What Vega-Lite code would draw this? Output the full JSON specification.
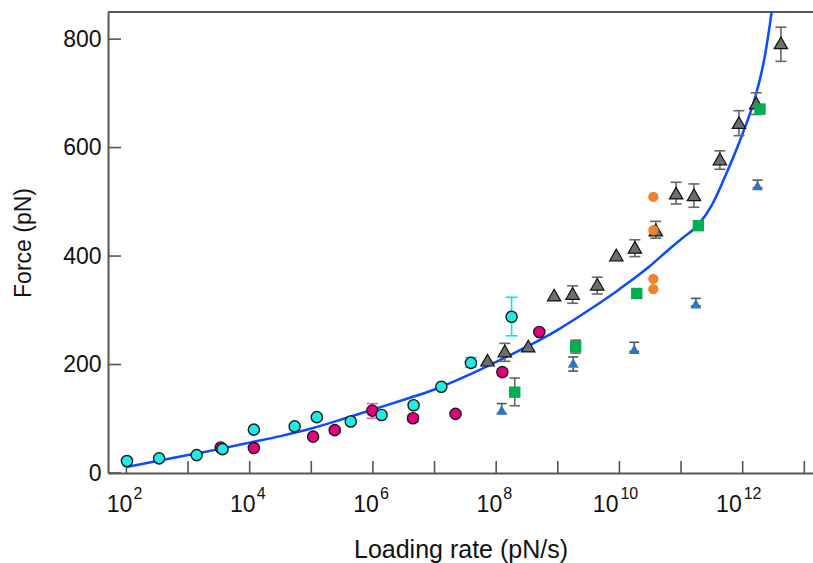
{
  "$schema": "https://vega.github.io/schema/vega-lite/v6.json",
  "width": 705,
  "height": 461,
  "autosize": {"type": "none"},
  "padding": {"left": 108, "top": 12, "right": 0, "bottom": 90},
  "background": "white",
  "config": {
    "view": {"stroke": null},
    "font": "Liberation Sans",
    "axis": {
      "grid": false,
      "ticks": false,
      "domainColor": "#555555",
      "domainWidth": 2,
      "labelColor": "#111111",
      "labelFontSize": 23,
      "titleFontSize": 24,
      "titleFontWeight": "normal",
      "titleColor": "#111111",
      "labelFont": "Liberation Sans",
      "titleFont": "Liberation Sans"
    },
    "text": {"font": "Liberation Sans", "color": "#111111"}
  },
  "datasets": {
    "xt": [{"v": 1e2}, {"v": 1e3}, {"v": 1e4}, {"v": 1e5}, {"v": 1e6}, {"v": 1e7}, {"v": 1e8}, {"v": 1e9}, {"v": 1e10}, {"v": 1e11}, {"v": 1e12}, {"v": 1e13}],
    "xl": [{"v": 1e2, "e": "2"}, {"v": 1e4, "e": "4"}, {"v": 1e6, "e": "6"}, {"v": 1e8, "e": "8"}, {"v": 1e10, "e": "10"}, {"v": 1e12, "e": "12"}],
    "yt": [{"v": 0}, {"v": 200}, {"v": 400}, {"v": 600}, {"v": 800}],
    "fit": [
      {"r": 1e2, "f": 11}, {"r": 3.162e2, "f": 22}, {"r": 1e3, "f": 33}, {"r": 3.162e3, "f": 44},
      {"r": 1e4, "f": 56}, {"r": 3.162e4, "f": 68}, {"r": 1e5, "f": 82}, {"r": 3.162e5, "f": 99},
      {"r": 1e6, "f": 117}, {"r": 3.162e6, "f": 135}, {"r": 1e7, "f": 154}, {"r": 3.162e7, "f": 178},
      {"r": 1e8, "f": 205}, {"r": 3.162e8, "f": 233}, {"r": 1e9, "f": 264}, {"r": 3.162e9, "f": 300},
      {"r": 1e10, "f": 339}, {"r": 3.162e10, "f": 382}, {"r": 5.623e10, "f": 407}, {"r": 1e11, "f": 431},
      {"r": 1.905e11, "f": 458}, {"r": 3.162e11, "f": 494}, {"r": 5.623e11, "f": 556}, {"r": 1e12, "f": 626},
      {"r": 1.585e12, "f": 692}, {"r": 2.239e12, "f": 763}, {"r": 2.951e12, "f": 850}, {"r": 3.631e12, "f": 930}
    ],
    "pts": [
      {"s": "cyan", "r": 1.02e2, "f": 22},
      {"s": "cyan", "r": 3.39e2, "f": 27},
      {"s": "cyan", "r": 1.38e3, "f": 33},
      {"s": "cyan", "r": 3.63e3, "f": 44},
      {"s": "cyan", "r": 1.17e4, "f": 80},
      {"s": "cyan", "r": 5.37e4, "f": 86},
      {"s": "cyan", "r": 1.23e5, "f": 103},
      {"s": "cyan", "r": 4.37e5, "f": 95},
      {"s": "cyan", "r": 1.38e6, "f": 107},
      {"s": "cyan", "r": 4.57e6, "f": 125},
      {"s": "cyan", "r": 1.29e7, "f": 159},
      {"s": "cyan", "r": 3.89e7, "f": 203, "lo": 195, "hi": 213},
      {"s": "cyan", "r": 1.78e8, "f": 288, "lo": 253, "hi": 324},
      {"s": "magenta", "r": 3.39e3, "f": 47},
      {"s": "magenta", "r": 1.17e4, "f": 46},
      {"s": "magenta", "r": 1.07e5, "f": 67},
      {"s": "magenta", "r": 2.4e5, "f": 79, "lo": 74, "hi": 84},
      {"s": "magenta", "r": 9.77e5, "f": 115, "lo": 101, "hi": 128},
      {"s": "magenta", "r": 4.47e6, "f": 101, "lo": 95, "hi": 107},
      {"s": "magenta", "r": 2.19e7, "f": 109},
      {"s": "magenta", "r": 1.26e8, "f": 186, "lo": 180, "hi": 192},
      {"s": "magenta", "r": 5.01e8, "f": 260},
      {"s": "gray", "r": 7.24e7, "f": 208},
      {"s": "gray", "r": 1.38e8, "f": 225, "lo": 206, "hi": 239},
      {"s": "gray", "r": 3.31e8, "f": 234},
      {"s": "gray", "r": 8.71e8, "f": 328},
      {"s": "gray", "r": 1.74e9, "f": 331, "lo": 313, "hi": 345},
      {"s": "gray", "r": 4.37e9, "f": 348, "lo": 330, "hi": 361},
      {"s": "gray", "r": 8.91e9, "f": 402},
      {"s": "gray", "r": 1.78e10, "f": 416, "lo": 399, "hi": 430},
      {"s": "gray", "r": 3.89e10, "f": 448, "lo": 433, "hi": 464},
      {"s": "gray", "r": 8.32e10, "f": 516, "lo": 496, "hi": 536},
      {"s": "gray", "r": 1.62e11, "f": 513, "lo": 490, "hi": 533},
      {"s": "gray", "r": 4.27e11, "f": 579, "lo": 560, "hi": 594},
      {"s": "gray", "r": 8.71e11, "f": 646, "lo": 622, "hi": 668},
      {"s": "gray", "r": 1.66e12, "f": 682, "lo": 661, "hi": 701},
      {"s": "gray", "r": 4.17e12, "f": 793, "lo": 759, "hi": 822},
      {"s": "green", "r": 2.0e8, "f": 149, "lo": 124, "hi": 175},
      {"s": "green", "r": 1.95e9, "f": 233, "lo": 221, "hi": 245},
      {"s": "green", "r": 1.91e10, "f": 331},
      {"s": "green", "r": 1.91e11, "f": 456},
      {"s": "green", "r": 1.91e12, "f": 671},
      {"s": "blue", "r": 1.23e8, "f": 116, "lo": 110, "hi": 128},
      {"s": "blue", "r": 1.78e9, "f": 203, "lo": 188, "hi": 214},
      {"s": "blue", "r": 1.74e10, "f": 228, "lo": 224, "hi": 241},
      {"s": "blue", "r": 1.74e11, "f": 312, "lo": 308, "hi": 322},
      {"s": "blue", "r": 1.74e12, "f": 530, "lo": 526, "hi": 540},
      {"s": "orange", "r": 3.55e10, "f": 509},
      {"s": "orange", "r": 3.55e10, "f": 448},
      {"s": "orange", "r": 3.55e10, "f": 358},
      {"s": "orange", "r": 3.55e10, "f": 339}
    ]
  },
  "layer": [
    {
      "data": {"name": "fit"},
      "mark": {"type": "rule", "color": "#555555", "strokeWidth": 2},
      "encoding": {
        "y": {"datum": 850, "type": "quantitative", "scale": {"domain": [0, 850], "nice": false, "zero": false}}
      }
    },
    {
      "data": {"name": "xt"},
      "mark": {"type": "tick", "orient": "vertical", "size": 24, "thickness": 1.6, "color": "#555555", "clip": true, "opacity": 1},
      "encoding": {
        "x": {"field": "v", "type": "quantitative", "scale": {"type": "log", "domain": [50.25, 1.3836e13], "nice": false, "zero": false}},
        "y": {"datum": 0, "type": "quantitative", "scale": {"domain": [0, 850], "nice": false, "zero": false}}
      }
    },
    {
      "data": {"name": "yt"},
      "mark": {"type": "tick", "orient": "horizontal", "size": 26, "thickness": 1.6, "color": "#555555", "clip": true, "opacity": 1},
      "encoding": {
        "x": {"datum": 50.25, "type": "quantitative", "scale": {"type": "log", "domain": [50.25, 1.3836e13], "nice": false, "zero": false}},
        "y": {"field": "v", "type": "quantitative", "scale": {"domain": [0, 850], "nice": false, "zero": false}}
      }
    },
    {
      "data": {"name": "xl"},
      "transform": [{"filter": "datum.v < 1e9"}],
      "mark": {"type": "text", "text": "10", "align": "right", "baseline": "alphabetic", "dx": 6, "dy": 39, "fontSize": 23},
      "encoding": {
        "x": {"field": "v", "type": "quantitative", "scale": {"type": "log", "domain": [50.25, 1.3836e13], "nice": false, "zero": false}},
        "y": {"datum": 0, "type": "quantitative", "scale": {"domain": [0, 850], "nice": false, "zero": false}}
      }
    },
    {
      "data": {"name": "xl"},
      "transform": [{"filter": "datum.v > 1e9"}],
      "mark": {"type": "text", "text": "10", "align": "right", "baseline": "alphabetic", "dx": -1, "dy": 39, "fontSize": 23},
      "encoding": {
        "x": {"field": "v", "type": "quantitative", "scale": {"type": "log", "domain": [50.25, 1.3836e13], "nice": false, "zero": false}},
        "y": {"datum": 0, "type": "quantitative", "scale": {"domain": [0, 850], "nice": false, "zero": false}}
      }
    },
    {
      "data": {"name": "xl"},
      "transform": [{"filter": "datum.v < 1e9"}],
      "mark": {"type": "text", "align": "left", "baseline": "alphabetic", "dx": 7, "dy": 26, "fontSize": 16},
      "encoding": {
        "x": {"field": "v", "type": "quantitative", "scale": {"type": "log", "domain": [50.25, 1.3836e13], "nice": false, "zero": false}},
        "y": {"datum": 0, "type": "quantitative", "scale": {"domain": [0, 850], "nice": false, "zero": false}},
        "text": {"field": "e", "type": "nominal"}
      }
    },
    {
      "data": {"name": "xl"},
      "transform": [{"filter": "datum.v > 1e9"}],
      "mark": {"type": "text", "align": "left", "baseline": "alphabetic", "dx": 1, "dy": 26, "fontSize": 16},
      "encoding": {
        "x": {"field": "v", "type": "quantitative", "scale": {"type": "log", "domain": [50.25, 1.3836e13], "nice": false, "zero": false}},
        "y": {"datum": 0, "type": "quantitative", "scale": {"domain": [0, 850], "nice": false, "zero": false}},
        "text": {"field": "e", "type": "nominal"}
      }
    },
    {
      "data": {"name": "fit"},
      "mark": {"type": "line", "color": "#0A4DFF", "strokeWidth": 2.5, "interpolate": "monotone", "clip": true},
      "encoding": {
        "x": {
          "field": "r", "type": "quantitative",
          "scale": {"type": "log", "domain": [50.25, 1.3836e13], "nice": false, "zero": false},
          "axis": {
            "title": "Loading rate (pN/s)",
            "labels": false,
            "titleFontSize": 25,
            "titlePadding": 64
          }
        },
        "y": {
          "field": "f", "type": "quantitative",
          "scale": {"domain": [0, 850], "nice": false, "zero": false},
          "axis": {
            "title": "Force (pN)",
            "titleFontSize": 23,
            "values": [0, 200, 400, 600, 800],
            "labelPadding": 7,
            "titlePadding": 27
          }
        }
      }
    },
    {
      "data": {"name": "pts"},
      "transform": [{"filter": "isValid(datum.lo)"}],
      "mark": {"type": "rule", "strokeWidth": 1.6},
      "encoding": {
        "x": {"field": "r", "type": "quantitative", "scale": {"type": "log", "domain": [50.25, 1.3836e13], "nice": false, "zero": false}},
        "y": {"field": "lo", "type": "quantitative", "scale": {"domain": [0, 850], "nice": false, "zero": false}},
        "y2": {"field": "hi"},
        "color": {"field": "s", "type": "nominal", "legend": null,
          "scale": {"domain": ["cyan", "magenta", "gray", "green", "blue"], "range": ["#00E6F0", "#F060B8", "#666666", "#666666", "#555555"]}}
      }
    },
    {
      "data": {"name": "pts"},
      "transform": [{"filter": "isValid(datum.lo)"}],
      "mark": {"type": "tick", "orient": "horizontal", "thickness": 1.6, "opacity": 1},
      "encoding": {
        "x": {"field": "r", "type": "quantitative", "scale": {"type": "log", "domain": [50.25, 1.3836e13], "nice": false, "zero": false}},
        "y": {"field": "lo", "type": "quantitative", "scale": {"domain": [0, 850], "nice": false, "zero": false}},
        "color": {"field": "s", "type": "nominal", "legend": null},
        "size": {"field": "s", "type": "nominal", "legend": null,
          "scale": {"domain": ["cyan", "magenta", "gray", "green", "blue"], "range": [12, 10, 14, 8, 7]}}
      }
    },
    {
      "data": {"name": "pts"},
      "transform": [{"filter": "isValid(datum.hi)"}],
      "mark": {"type": "tick", "orient": "horizontal", "thickness": 1.6, "opacity": 1},
      "encoding": {
        "x": {"field": "r", "type": "quantitative", "scale": {"type": "log", "domain": [50.25, 1.3836e13], "nice": false, "zero": false}},
        "y": {"field": "hi", "type": "quantitative", "scale": {"domain": [0, 850], "nice": false, "zero": false}},
        "color": {"field": "s", "type": "nominal", "legend": null},
        "size": {"field": "s", "type": "nominal", "legend": null}
      }
    },
    {
      "data": {"name": "pts"},
      "transform": [{"filter": "datum.s == 'magenta'"}],
      "mark": {"type": "point", "shape": "circle", "filled": true, "fill": "#E3007E", "stroke": "#1a1a1a", "strokeWidth": 1.4, "size": 125, "opacity": 1},
      "encoding": {
        "x": {"field": "r", "type": "quantitative", "scale": {"type": "log", "domain": [50.25, 1.3836e13], "nice": false, "zero": false}},
        "y": {"field": "f", "type": "quantitative", "scale": {"domain": [0, 850], "nice": false, "zero": false}}
      }
    },
    {
      "data": {"name": "pts"},
      "transform": [{"filter": "datum.s == 'cyan'"}],
      "mark": {"type": "point", "shape": "circle", "filled": true, "fill": "#1FEAEA", "stroke": "#1a1a1a", "strokeWidth": 1.4, "size": 125, "opacity": 1},
      "encoding": {
        "x": {"field": "r", "type": "quantitative", "scale": {"type": "log", "domain": [50.25, 1.3836e13], "nice": false, "zero": false}},
        "y": {"field": "f", "type": "quantitative", "scale": {"domain": [0, 850], "nice": false, "zero": false}}
      }
    },
    {
      "data": {"name": "pts"},
      "transform": [{"filter": "datum.s == 'gray'"}],
      "mark": {"type": "point", "shape": "triangle-up", "filled": true, "fill": "#6E6E6E", "stroke": "#111111", "strokeWidth": 1.2, "size": 180, "opacity": 1},
      "encoding": {
        "x": {"field": "r", "type": "quantitative", "scale": {"type": "log", "domain": [50.25, 1.3836e13], "nice": false, "zero": false}},
        "y": {"field": "f", "type": "quantitative", "scale": {"domain": [0, 850], "nice": false, "zero": false}}
      }
    },
    {
      "data": {"name": "pts"},
      "transform": [{"filter": "datum.s == 'green'"}],
      "mark": {"type": "point", "shape": "square", "filled": true, "fill": "#00B050", "size": 130, "opacity": 1},
      "encoding": {
        "x": {"field": "r", "type": "quantitative", "scale": {"type": "log", "domain": [50.25, 1.3836e13], "nice": false, "zero": false}},
        "y": {"field": "f", "type": "quantitative", "scale": {"domain": [0, 850], "nice": false, "zero": false}}
      }
    },
    {
      "data": {"name": "pts"},
      "transform": [{"filter": "datum.s == 'blue'"}],
      "mark": {"type": "point", "shape": "triangle-up", "filled": true, "fill": "#2F76BE", "size": 120, "opacity": 1},
      "encoding": {
        "x": {"field": "r", "type": "quantitative", "scale": {"type": "log", "domain": [50.25, 1.3836e13], "nice": false, "zero": false}},
        "y": {"field": "f", "type": "quantitative", "scale": {"domain": [0, 850], "nice": false, "zero": false}}
      }
    },
    {
      "data": {"name": "pts"},
      "transform": [{"filter": "datum.s == 'orange'"}],
      "mark": {"type": "point", "shape": "circle", "filled": true, "fill": "#F0822E", "size": 105, "opacity": 1},
      "encoding": {
        "x": {"field": "r", "type": "quantitative", "scale": {"type": "log", "domain": [50.25, 1.3836e13], "nice": false, "zero": false}},
        "y": {"field": "f", "type": "quantitative", "scale": {"domain": [0, 850], "nice": false, "zero": false}}
      }
    }
  ]
}
